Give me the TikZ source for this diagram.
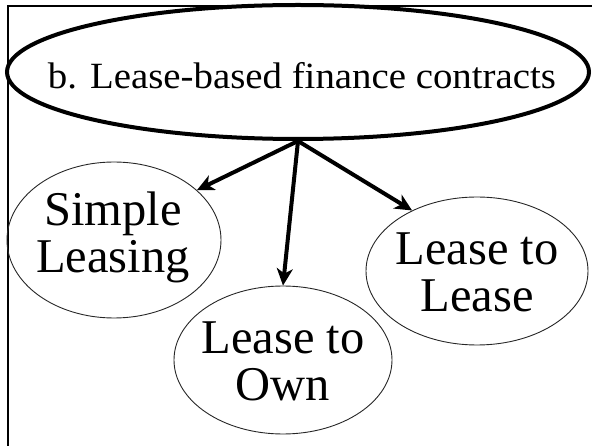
\documentclass[tikz,border=0pt]{standalone}
\usepackage{fontspec}
\setmainfont{Liberation Serif}
\newfontfamily\titlefont[FakeStretch=1.05]{Liberation Serif}
\usetikzlibrary{shapes.geometric,arrows.meta}

\tikzset{
  frame/.style={draw=black, line width=2.5pt},
  headell/.style={ellipse, draw=black, line width=4pt, inner sep=0pt,
    minimum width=582pt, minimum height=134pt},
  leafell/.style={ellipse, draw=black!85, line width=0.9pt, inner sep=0pt},
  leaftext/.style={align=center, font=\fontsize{48.5pt}{47pt}\selectfont, inner sep=0pt},
  headtext/.style={font=\titlefont\fontsize{37pt}{40pt}\selectfont, inner sep=0pt},
  branch/.style={draw=black, line width=4pt,
    -{Stealth[length=17pt, width=16pt, inset=5pt]}},
}

\begin{document}
\begin{tikzpicture}[x=1pt, y=-1pt]
  \useasboundingbox (0,0) rectangle (592,446);

  % outer frame, running off the page on the right and bottom
  \draw[frame] (8,6) rectangle (640,490);

  % top-level category
  \node[headell] (lease) at (298,72) {};
  \node[headtext] (leaselbl) at (302,76) {b. Lease-based finance contracts};

  % the three contract types
  \node[leafell, minimum width=214pt, minimum height=156pt] (simple) at (114,240) {};
  \node[leaftext] (simplelbl) at (113,237) {Simple\\Leasing};

  \node[leafell, minimum width=218pt, minimum height=148pt] (own) at (283,360) {};
  \node[leaftext] (ownlbl) at (283,361) {Lease to\\Own};

  \node[leafell, minimum width=222pt, minimum height=148pt] (lease2) at (477,271) {};
  \node[leaftext] (lease2lbl) at (477,272) {Lease to\\Lease};

  % branches from the category to each type
  \coordinate (fork) at (lease.south);
  \draw[branch] (fork) -- (simple.31);
  \draw[branch] (fork) -- (own.north);
  \draw[branch] (fork) -- (lease2.137);
\end{tikzpicture}
\end{document}
